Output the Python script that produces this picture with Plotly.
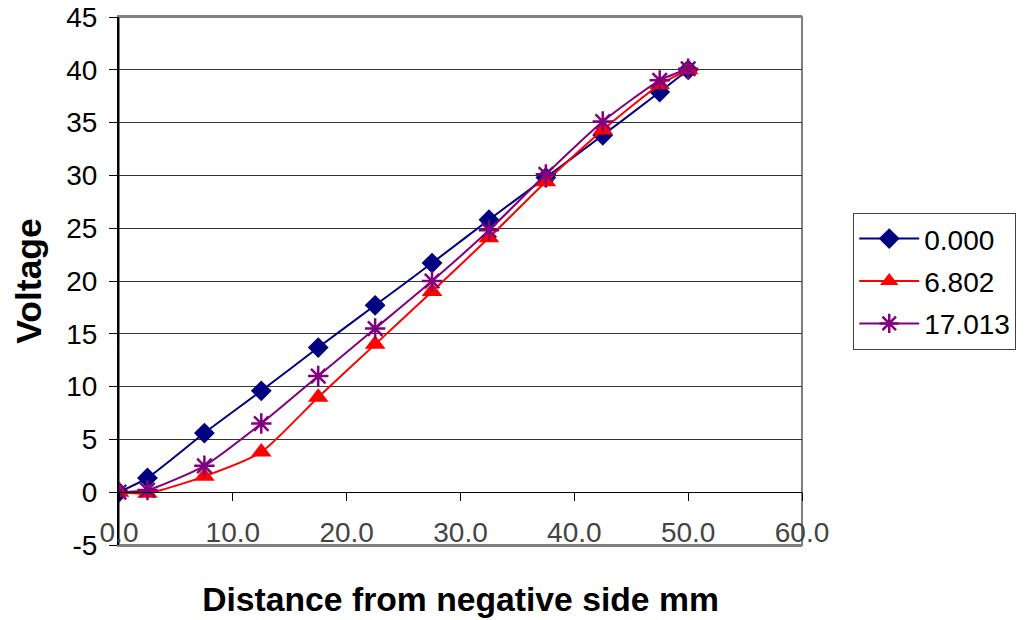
import plotly.graph_objects as go

distance = [0, 2.5, 7.5, 12.5, 17.5, 22.5, 27.5, 32.5, 37.5, 42.5, 47.5, 50]
v_0000 = [0, 1.35, 5.6, 9.6, 13.7, 17.7, 21.7, 25.8, 29.8, 33.8, 37.9, 40.0]
v_6802 = [0, -0.1, 1.5, 3.8, 9.0, 14.0, 19.0, 24.1, 29.4, 34.3, 38.6, 40.0]
v_17013 = [0, 0.2, 2.5, 6.5, 11.0, 15.5, 20.0, 24.8, 30.1, 35.1, 39.0, 40.1]
series_names = ["0.000", "6.802", "17.013"]
x_ticks = [0, 10, 20, 30, 40, 50, 60]
x_ticklabels = ["0.0", "10.0", "20.0", "30.0", "40.0", "50.0", "60.0"]
y_ticks = [-5, 0, 5, 10, 15, 20, 25, 30, 35, 40, 45]
y_ticklabels = ["-5", "0", "5", "10", "15", "20", "25", "30", "35", "40", "45"]

FONT = "Liberation Sans, Arial, sans-serif"

fig = go.Figure()
styles = [
    (v_0000, "#000080", dict(symbol="diamond", size=16, color="#000080")),
    (v_6802, "#FF0000", dict(symbol="triangle-up", size=18, color="#FF0000")),
    (v_17013, "#800080", dict(symbol="asterisk-open", size=17, color="#800080",
                              line=dict(color="#800080", width=2.5))),
]
for i, (vals, col, mk) in enumerate(styles):
    fig.add_trace(go.Scatter(
        x=distance, y=vals, name=series_names[i], mode="lines+markers",
        line=dict(color=col, width=2, shape="spline", smoothing=0.6),
        marker=mk, legendgroup=f"g{i}",
    ))

# invisible trace for the axis drawn at y = 0
fig.add_trace(go.Scatter(x=[0, 60], y=[0, 0], xaxis="x2", mode="lines",
                         line=dict(width=0), showlegend=False, hoverinfo="skip"))

fig.update_layout(
    width=1026, height=620,
    margin=dict(l=119, r=224, t=17, b=75, autoexpand=False),
    paper_bgcolor="white", plot_bgcolor="white",
    font=dict(family=FONT, size=28, color="black"),
    showlegend=True,
    legend=dict(x=1.075, y=0.629, xanchor="left", yanchor="top",
                bordercolor="#404040", borderwidth=1, bgcolor="white",
                font=dict(size=28, family=FONT), itemwidth=60,
                tracegroupgap=3),
    xaxis=dict(range=[0, 60], tickvals=x_ticks, ticktext=x_ticklabels,
               showgrid=False, zeroline=False, showline=True, automargin=False,
               linecolor="#808080", linewidth=2, mirror=True,
               ticks="", ticklabelposition="inside", ticklabeloverflow="allow",
               tickfont=dict(size=28),
               title=dict(text="<b>Distance from negative side mm</b>",
                          font=dict(size=33.7), standoff=40)),
    xaxis2=dict(range=[0, 60], overlaying="x", anchor="free", position=0.1,
                side="bottom", showline=True, linecolor="black", linewidth=1,
                ticks="outside", ticklen=8, tickcolor="black", dtick=10,
                automargin=False,
                showticklabels=False, showgrid=False, zeroline=False),
    yaxis=dict(range=[-5, 45], tickvals=y_ticks, ticktext=y_ticklabels,
               showgrid=True, gridcolor="#333333",
               gridwidth=1, zeroline=False, showline=True, linecolor="black",
               automargin=False,
               linewidth=2, ticks="outside", ticklen=8, tickcolor="black",
               tickfont=dict(size=28), ticklabelstandoff=6,
               title=dict(text="<b>Voltage</b>", font=dict(size=35.5), standoff=14)),
    shapes=[dict(type="rect", xref="paper", yref="paper", x0=0, x1=1, y0=0, y1=1,
                 line=dict(color="#808080", width=2), layer="below")],
)

fig.write_html("out.html")
